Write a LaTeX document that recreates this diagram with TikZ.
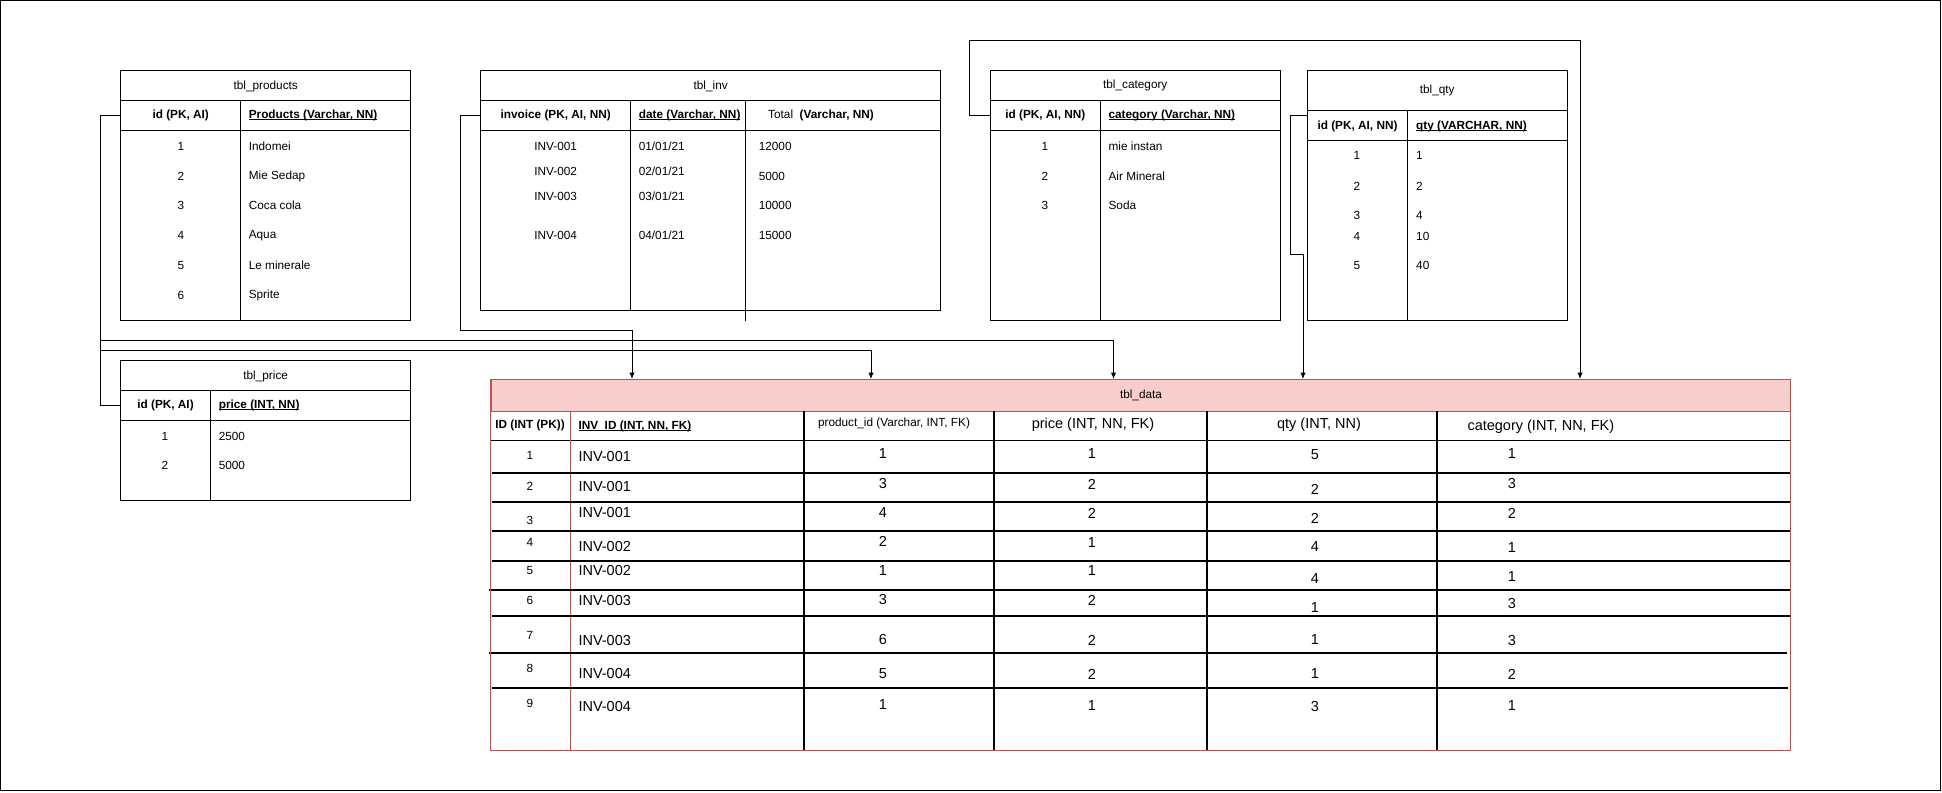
\documentclass[tikz,border=0pt]{standalone}
\usepackage{fontspec}
\setmainfont{Liberation Sans}
\usetikzlibrary{arrows.meta}
\definecolor{R1}{HTML}{B85450}
\definecolor{R2}{HTML}{F8CECC}
\newcommand\undl[1]{\setbox0\hbox{#1}\rlap{\rule[-1.6pt]{\wd0}{0.8pt}}\box0}

\begin{document}
\begin{tikzpicture}[x=1pt,y=-1pt,line width=1pt]
\tikzstyle{fr} = [draw,inner sep=0mm]
\tikzstyle{txt} = [inner sep=0mm,font=\fontsize{11.8}{14}\selectfont]
\tikzstyle{hd} = [inner sep=0mm,font=\fontsize{11.8}{14}\selectfont\bfseries]
\tikzstyle{bigtxt} = [inner sep=0mm,font=\fontsize{14.5}{17}\selectfont]
\tikzstyle{lt} = [anchor=west]
\tikzstyle{a} = [line width=1pt,>={Latex[length=6.5pt,width=5.5pt]},->]
\tikzstyle{sep} = [line width=2pt]
\useasboundingbox (0,0) rectangle (1942,792);
\draw[line width=1.3pt] (0.65,0.65) rectangle (1940.4,790.2);

% tbl_products
\node[fr,minimum width=290,minimum height=249.3] (products) at (265.7,195.35) {};
\draw (120.7,100.7) -- (410.7,100.7) (120.7,130) -- (410.7,130) (240.7,100.7) -- (240.7,320);
\node[txt] (productst) at (265.7,86) {tbl\_products};
\node[hd] (productsid) at (180.7,115.5) {id (PK, AI)};
\node[hd,lt] (productsname) at (248.3,115.5) {\undl{Products (Varchar, NN)}};
\foreach \nn/\v/\y in {1/Indomei/146.7,2/Mie Sedap/176.7,3/Coca cola/205.7,4/Aqua/235.7,5/Le minerale/265.7,6/Sprite/295.7}{
  \node[txt] (pid\nn) at (181,\y) {\nn};
  \node[txt,lt] (pname\nn) at (248.3,\y) {\v};
}

% tbl_price
\node[fr,minimum width=290,minimum height=139.3] (price) at (265.7,430.35) {};
\draw (120.7,390) -- (410.7,390) (120.7,420) -- (410.7,420) (210.3,390) -- (210.3,500);
\node[txt] (pricet) at (265.7,376) {tbl\_price};
\node[hd] (priceid) at (165.5,405.5) {id (PK, AI)};
\node[hd,lt] (pricename) at (218.3,405.5) {\undl{price (INT, NN)}};
\foreach \nn/\v/\y in {1/2500/436,2/5000/465.7}{
  \node[txt] (prid\nn) at (165,\y) {\nn};
  \node[txt,lt] (prval\nn) at (218.3,\y) {\v};
}

% tbl_inv
\node[fr,minimum width=460,minimum height=239.3] (inv) at (710.7,190.35) {};
\draw (480.7,100.7) -- (940.7,100.7) (480.7,130) -- (940.7,130) (630.7,100.7) -- (630.7,310) (745.7,100.7) -- (745.7,320.7);
\node[txt] (invt) at (710.7,86) {tbl\_inv};
\node[hd] (invid) at (555.7,115.5) {invoice (PK, AI, NN)};
\node[hd,lt] (invdate) at (638.3,115.5) {\undl{date (Varchar, NN)}};
\node[hd,lt] (invtotal) at (767.7,115.5) {\mdseries Total\ \ \bfseries(Varchar, NN)};
\foreach \nn/\dd/\tot/\y/\yt in {1/01/12000/146.7/146.7,2/02/5000/171.7/176.7,3/03/10000/196.7/205.7,4/04/15000/235.7/235.7}{
  \node[txt] (invrow\nn) at (555.7,\y) {INV-00\nn};
  \node[txt,lt] (invdate\nn) at (638.3,\y) {\dd/01/21};
  \node[txt,lt] (invtotal\nn) at (758.3,\yt) {\tot};
}

% tbl_category
\node[fr,minimum width=290.1,minimum height=249.3] (category) at (1135.25,195.35) {};
\draw (990.2,100.7) -- (1280.3,100.7) (990.2,130) -- (1280.3,130) (1100.4,100.7) -- (1100.4,320);
\node[txt] (categoryt) at (1135.25,85.7) {tbl\_category};
\node[hd] (categoryid) at (1045.3,115.5) {id (PK, AI, NN)};
\node[hd,lt] (categoryname) at (1108.1,115.5) {\undl{category (Varchar, NN)}};
\foreach \nn/\v/\y in {1/mie instan/146.7,2/Air Mineral/176.7,3/Soda/205.7}{
  \node[txt] (cid\nn) at (1045,\y) {\nn};
  \node[txt,lt] (cname\nn) at (1108.1,\y) {\v};
}

% tbl_qty
\node[fr,minimum width=259.8,minimum height=249.3] (qty) at (1437.2,195.35) {};
\draw (1307.3,110.7) -- (1567.1,110.7) (1307.3,140.7) -- (1567.1,140.7) (1407.6,110.7) -- (1407.6,320);
\node[txt] (qtyt) at (1437.2,90.7) {tbl\_qty};
\node[hd] (qtyid) at (1357.5,126.2) {id (PK, AI, NN)};
\node[hd,lt] (qtyname) at (1415.7,126.2) {\undl{qty (VARCHAR, NN)}};
\foreach \nn/\v/\y in {1/1/155.7,2/2/186.2,3/4/215.5,4/10/236.2,5/40/265.7}{
  \node[txt] (qid\nn) at (1357,\y) {\nn};
  \node[txt,lt] (qval\nn) at (1415.7,\y) {\v};
}

% tbl_data
\node[fr,draw=R1,fill=R2,txt,minimum width=1299.6,minimum height=31.7,anchor=north west] (datat) at (490.7,379) {tbl\_data};
\draw (490.7,440.7) -- (1790.3,440.7);
\draw[R1] (570.3,410.7) -- (570.3,750.3);
\foreach \x in {804.2,994,1206.6,1437.2}
  \draw[sep] (\x,410.7) -- (\x,750.3);
\foreach \y/\xa/\xb in {472.5/492/1790,501.7/492/1790,531/492/1790,561/492/1790,590/489/1790,616/492/1790,653.3/489/1787,688/492/1788}
  \draw[sep] (\xa,\y) -- (\xb,\y);
\draw[R1] (490.7,379) rectangle (1790.3,750.3);
\node[hd] (did) at (530,425.5) {ID (INT (PK))};
\node[hd,lt] (dinv) at (578,426) {\undl{INV\_ID (INT, NN, FK)}};
\node[txt] (dprod) at (894,423.3) {product\_id (Varchar, INT, FK)};
\node[bigtxt] (dprice) at (1093,425) {price (INT, NN, FK)};
\node[bigtxt] (dqty) at (1319,425) {qty (INT, NN)};
\node[bigtxt,lt] (dcat) at (1467,426.7) {category (INT, NN, FK)};
\foreach \nn/\yi/\iv/\yv/\pr/\yp/\pc/\yc/\qt/\yq/\ct/\yt in {
  1/455/INV-001/456.7/1/453.3/1/454/5/455/1/454,
  2/486/INV-001/486.7/3/484/2/484/2/489.3/3/483.3,
  3/520.7/INV-001/512.3/4/512.7/2/513.3/2/518/2/513.3,
  4/542.3/INV-002/546.7/2/541.7/1/542.3/4/546.7/1/547.3,
  5/570.7/INV-002/570.7/1/570.7/1/571/4/578.3/1/576.7,
  6/600/INV-003/600.7/3/599.3/2/600/1/607.3/3/603.3,
  7/635.7/INV-003/640/6/639.3/2/640/1/640/3/640,
  8/668.3/INV-004/673.3/5/673.3/2/674/1/674/2/674,
  9/703.3/INV-004/706/1/705/1/706/3/706/1/706}{
  \node[txt] (did\nn) at (530,\yi) {\nn};
  \node[bigtxt,lt] (dinv\nn) at (578,\yv) {\iv};
  \node[bigtxt] (dprod\nn) at (883,\yp) {\pr};
  \node[bigtxt] (dprice\nn) at (1092,\yc) {\pc};
  \node[bigtxt] (dqty\nn) at (1315,\yq) {\qt};
  \node[bigtxt] (dcat\nn) at (1512,\yt) {\ct};
}

% connectors
\coordinate (c1) at (632,330.7);
\coordinate (c2) at (1113.5,340.7);
\coordinate (c3) at (871,350.7);
\coordinate (c4) at (1303,254.3);
\coordinate (c5) at (1580,40.7);
\coordinate (q0) at (1307.3,115);
\draw[a] (inv.west |- invid) -- ++(-20,0) |- (c1) -- (c1 |- datat.north);
\draw[a] (products.west |- productsid) -- ++(-20,0) |- (c3) -- (c3 |- datat.north);
\draw[a] (price.west |- priceid) -- ++(-20,0) |- (c2) -- (c2 |- datat.north);
\draw[a] (category.west |- categoryid) -- ++(-20,0) |- (c5) -- (c5 |- datat.north);
\draw[a] (q0) -- ++(-16.6,0) |- (c4) -- (c4 |- datat.north);
\end{tikzpicture}
\end{document}
